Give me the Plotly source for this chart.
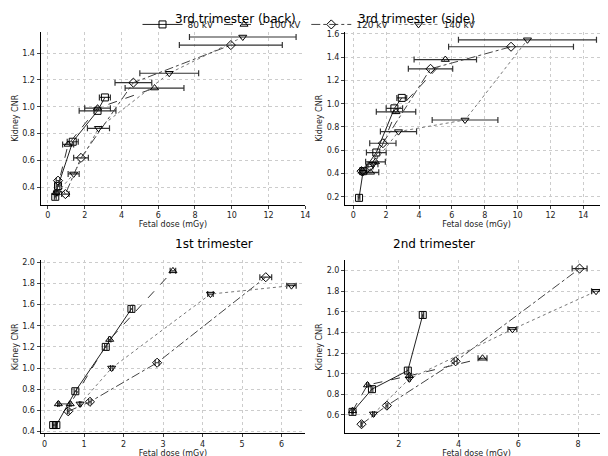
import plotly.graph_objects as go
from plotly.subplots import make_subplots

kv_labels = ["80 kV", "100 kV", "120 kV", "140 kV"]

# 3rd trimester (back)
back_x = [[0.4, 0.55, 1.35, 2.7, 3.1], [0.45, 1.1, 2.7, 5.8], [0.55, 0.95, 1.8, 4.65, 9.95], [0.5, 1.4, 2.75, 6.6, 10.6]]
back_y = [[0.33, 0.41, 0.74, 0.97, 1.07], [0.36, 0.72, 0.99, 1.14], [0.45, 0.35, 0.62, 1.18, 1.46], [0.36, 0.50, 0.84, 1.25, 1.52]]
back_e = [[0.05, 0.1, 0.3, 1.0, 0.3], [0.1, 0.3, 0.7, 1.6], [0.1, 0.2, 0.4, 1.0, 2.8], [0.1, 0.3, 0.6, 1.6, 2.9]]

# 3rd trimester (side)
side_x = [[0.35, 0.6, 1.4, 2.5, 2.95], [0.55, 1.05, 1.35, 2.6, 5.6], [0.5, 1.0, 1.8, 4.7, 9.6], [0.6, 1.2, 2.75, 6.8, 10.6]]
side_y = [[0.19, 0.42, 0.58, 0.96, 1.05], [0.42, 0.41, 0.50, 0.93, 1.38], [0.42, 0.46, 0.66, 1.30, 1.49], [0.41, 0.48, 0.76, 0.86, 1.55]]
side_e = [[0.05, 0.1, 0.6, 0.5, 0.3], [0.1, 0.5, 0.6, 1.2, 1.9], [0.1, 0.2, 0.8, 1.35, 3.8], [0.1, 0.3, 1.1, 2.0, 4.2]]

# 1st trimester
first_x = [[0.22, 0.3, 0.78, 1.55, 2.2], [0.35, 0.65, 1.65, 3.25], [0.6, 1.15, 2.85, 5.6], [0.9, 1.7, 4.2, 6.25]]
first_y = [[0.46, 0.46, 0.78, 1.20, 1.56], [0.66, 0.66, 1.27, 1.92], [0.59, 0.68, 1.05, 1.86], [0.66, 1.00, 1.70, 1.78]]
first_e = [[0.02, 0.02, 0.03, 0.03, 0.03], [0.02, 0.02, 0.03, 0.07], [0.02, 0.03, 0.05, 0.15], [0.02, 0.03, 0.07, 0.12]]

# 2nd trimester
second_x = [[0.45, 1.1, 2.3, 2.8], [0.45, 0.95, 2.35, 4.8], [0.75, 1.6, 3.9, 8.05], [1.15, 2.35, 5.8, 8.6]]
second_y = [[0.63, 0.85, 1.03, 1.57], [0.64, 0.89, 0.98, 1.15], [0.51, 0.69, 1.12, 2.02], [0.61, 0.95, 1.43, 1.80]]
second_e = [[0.02, 0.03, 0.03, 0.03], [0.02, 0.03, 0.03, 0.15], [0.02, 0.03, 0.05, 0.25], [0.03, 0.03, 0.15, 0.15]]

symbols = ["square-open", "triangle-up-open", "diamond-open", "triangle-down-open"]
dashes = ["solid", "dash", "dashdot", "dot"]
colors = ["#222222", "#333333", "#444444", "#777777"]

fig = make_subplots(rows=2, cols=2)
panels = [(back_x, back_y, back_e, 1, 1), (side_x, side_y, side_e, 1, 2),
          (first_x, first_y, first_e, 2, 1), (second_x, second_y, second_e, 2, 2)]
for xs, ys, es, r, c in panels:
    for i in range(4):
        fig.add_trace(go.Scatter(
            x=xs[i], y=ys[i], mode="lines+markers", name=kv_labels[i],
            showlegend=(r == 1 and c == 1),
            line=dict(color=colors[i], dash=dashes[i], width=1),
            marker=dict(symbol=symbols[i], size=7, color="black", line=dict(width=1)),
            error_x=dict(type="data", array=es[i], color="#333333", thickness=1.2, width=3),
        ), row=r, col=c)

doms_x = [[0.054, 0.493], [0.559, 0.995]]
doms_y = [[0.568, 0.952], [0.061, 0.445]]
ranges_x = [[-0.4, 14], [-0.5, 15.5], [-0.1, 6.6], [0.2, 9.0]]
ranges_y = [[0.27, 1.56], [0.13, 1.62], [0.38, 2.02], [0.42, 2.1]]
dticks_x = [2, 2, 1, 2]
titles = ["3rd trimester (back)", "3rd trimester (side)", "1st trimester", "2nd trimester"]
title_y = [1.0, 1.0, 0.482, 0.482]
k = 0
for r in (1, 2):
    for c in (1, 2):
        fig.update_xaxes(domain=doms_x[c - 1], range=ranges_x[k], dtick=dticks_x[k],
                         title=dict(text="Fetal dose (mGy)", font=dict(size=8), standoff=0),
                         showline=True, linecolor="black", ticks="outside", ticklen=3,
                         showgrid=True, gridcolor="#cccccc", griddash="dot", zeroline=False,
                         tickfont=dict(size=8), row=r, col=c)
        fig.update_yaxes(domain=doms_y[r - 1], range=ranges_y[k], dtick=0.2, tickformat=".1f",
                         title=dict(text="Kidney CNR", font=dict(size=8), standoff=2),
                         showline=True, linecolor="black", ticks="outside", ticklen=3,
                         showgrid=True, gridcolor="#cccccc", griddash="dot", zeroline=False,
                         tickfont=dict(size=8), row=r, col=c)
        fig.add_annotation(text=titles[k], x=sum(doms_x[c - 1]) / 2, y=title_y[k],
                           xref="paper", yref="paper", showarrow=False, font=dict(size=12, color="black"),
                           yanchor="top" if r == 1 else "middle")
        k += 1

fig.update_layout(
    width=608, height=456, margin=dict(l=0, r=0, t=0, b=0),
    plot_bgcolor="white", paper_bgcolor="white",
    font=dict(family="DejaVu Sans", color="#222222"),
    legend=dict(orientation="h", x=0.5, xanchor="center", y=0.968, yanchor="middle",
                font=dict(size=9), bgcolor="rgba(0,0,0,0)", itemwidth=40),
)
fig.write_html("out.html")
